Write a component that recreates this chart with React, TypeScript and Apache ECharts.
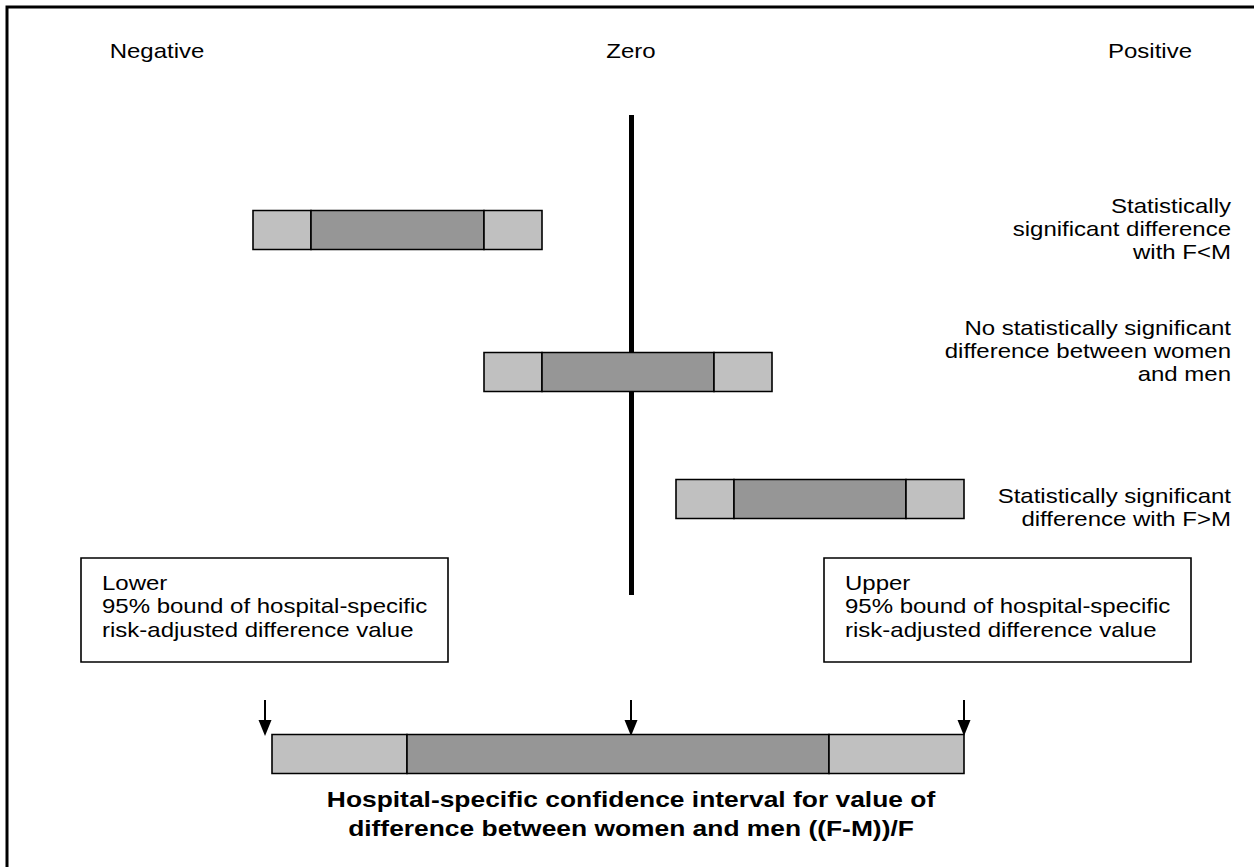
import React, { useEffect, useRef } from "react";
import * as echarts from "echarts";

// Schematic confidence intervals on a relative difference scale (zero = no difference)
// each: [lower 95% bound, inner lower, inner upper, upper 95% bound]
const intervalNames = ["F<M", "No difference", "F>M", "Example"];
const lowerBound = [-378, -147, 45, -359];
const innerLower = [-320, -89, 103, -224];
const innerUpper = [-147, 83, 275, 198];
const upperBound = [-89, 141, 333, 333];
// layout rows (vertical placement in diagram units)
const rowLevel = [230, 372, 499, 754];

const directionLabels = ["Negative", "Zero", "Positive"];
const directionValues = [-474, 0, 519];

const outcomeTexts = [
  "Statistically\nsignificant difference\nwith F<M",
  "No statistically significant\ndifference between women\nand men",
  "Statistically significant\ndifference with F>M",
];
const boundTexts = [
  "Lower\n95% bound of hospital-specific\nrisk-adjusted difference value",
  "Upper\n95% bound of hospital-specific\nrisk-adjusted difference value",
];
const arrowValues = [-366, 0, 333];
const titleText =
  "Hospital-specific confidence interval for value of\ndifference between women and men ((F-M))/F";

const LIGHT = "#c0c0c0";
const DARK = "#969696";
const FONT = "'Liberation Sans', Arial, sans-serif";
const SX = 1.2;

export default function App() {
  const ref = useRef<HTMLDivElement>(null);
  useEffect(() => {
    if (!ref.current) return;
    const chart = echarts.init(ref.current, undefined, { renderer: "svg" });
    const data = intervalNames.map((n, i) => ({
      name: n,
      value: [lowerBound[i], innerLower[i], innerUpper[i], upperBound[i], rowLevel[i]],
    }));
    const barH = 39;
    const renderItem = (params: any, api: any) => {
      const lo = api.value(0), a = api.value(1), b = api.value(2), hi = api.value(3), y = api.value(4);
      const p0 = api.coord([lo, y]);
      const p1 = api.coord([a, y]);
      const p2 = api.coord([b, y]);
      const p3 = api.coord([hi, y]);
      const h = api.size([0, barH])[1];
      const top = p0[1] - h / 2;
      const st = (fill: string) => ({ fill, stroke: "#000", lineWidth: 1.6 });
      return {
        type: "group",
        children: [
          { type: "rect", shape: { x: p0[0], y: top, width: p1[0] - p0[0], height: h }, style: st(LIGHT) },
          { type: "rect", shape: { x: p1[0], y: top, width: p2[0] - p1[0], height: h }, style: st(DARK) },
          { type: "rect", shape: { x: p2[0], y: top, width: p3[0] - p2[0], height: h }, style: st(LIGHT) },
        ],
      };
    };

    const xScale = (v: number) => 631 + v; // only used for graphic text placement
    const graphics: any[] = [];
    // outer frame
    graphics.push({
      type: "rect",
      shape: { x: 7, y: 7, width: 1260, height: 880 },
      style: { fill: "none", stroke: "#000", lineWidth: 3 },
      z: 10,
    });
    directionLabels.forEach((t, i) => {
      graphics.push({
        type: "text",
        x: xScale(directionValues[i]),
        y: 51,
        scaleX: SX,
        style: { text: t, font: `20px ${FONT}`, fill: "#000", textAlign: "center", textVerticalAlign: "middle" },
      });
    });
    const outcomeTops = [195, 317, 485];
    outcomeTexts.forEach((t, i) => {
      graphics.push({
        type: "text",
        x: 1231,
        y: outcomeTops[i],
        scaleX: SX,
        style: { text: t, font: `20px ${FONT}`, lineHeight: 23, fill: "#000", textAlign: "right", textVerticalAlign: "top" },
      });
    });
    const boxX = [81, 824];
    boundTexts.forEach((t, i) => {
      graphics.push({
        type: "rect",
        shape: { x: boxX[i], y: 558, width: 367, height: 104 },
        style: { fill: "#fff", stroke: "#000", lineWidth: 1.6 },
      });
      graphics.push({
        type: "text",
        x: boxX[i] + 21,
        y: 571,
        scaleX: SX,
        style: { text: t, font: `20px ${FONT}`, lineHeight: 23.5, fill: "#000", textAlign: "left", textVerticalAlign: "top" },
      });
    });
    graphics.push({
      type: "text",
      x: 631,
      y: 785,
      scaleX: SX,
      style: { text: titleText, font: `bold 22px ${FONT}`, lineHeight: 29, fill: "#000", textAlign: "center", textVerticalAlign: "top" },
    });

    chart.setOption({
      animation: false,
      backgroundColor: "#fff",
      grid: { left: 0, right: 0, top: 0, bottom: 0 },
      xAxis: { type: "value", min: -631, max: 623, show: false },
      yAxis: { type: "value", min: 0, max: 867, inverse: true, show: false },
      graphic: graphics,
      series: [
        {
          type: "custom",
          renderItem,
          data,
          z: 5,
          markLine: {
            silent: true,
            symbol: ["none", "none"],
            label: { show: false },
            lineStyle: { color: "#000", width: 5, type: "solid" },
            data: [[{ coord: [0, 115] }, { coord: [0, 595] }]],
          },
        },
        {
          type: "line",
          data: [],
          markLine: {
            silent: true,
            symbol: ["none", "triangle"],
            symbolSize: [13, 16],
            label: { show: false },
            lineStyle: { color: "#000", width: 2, type: "solid" },
            itemStyle: { color: "#000" },
            data: arrowValues.map((v) => [{ coord: [v, 700] }, { coord: [v, 728] }]),
          },
        },
      ],
    });
    return () => chart.dispose();
  }, []);
  return (
    <div
      ref={ref}
      style={{ position: "fixed", left: 0, top: 0, width: 1254, height: 867, background: "#fff" }}
    />
  );
}
